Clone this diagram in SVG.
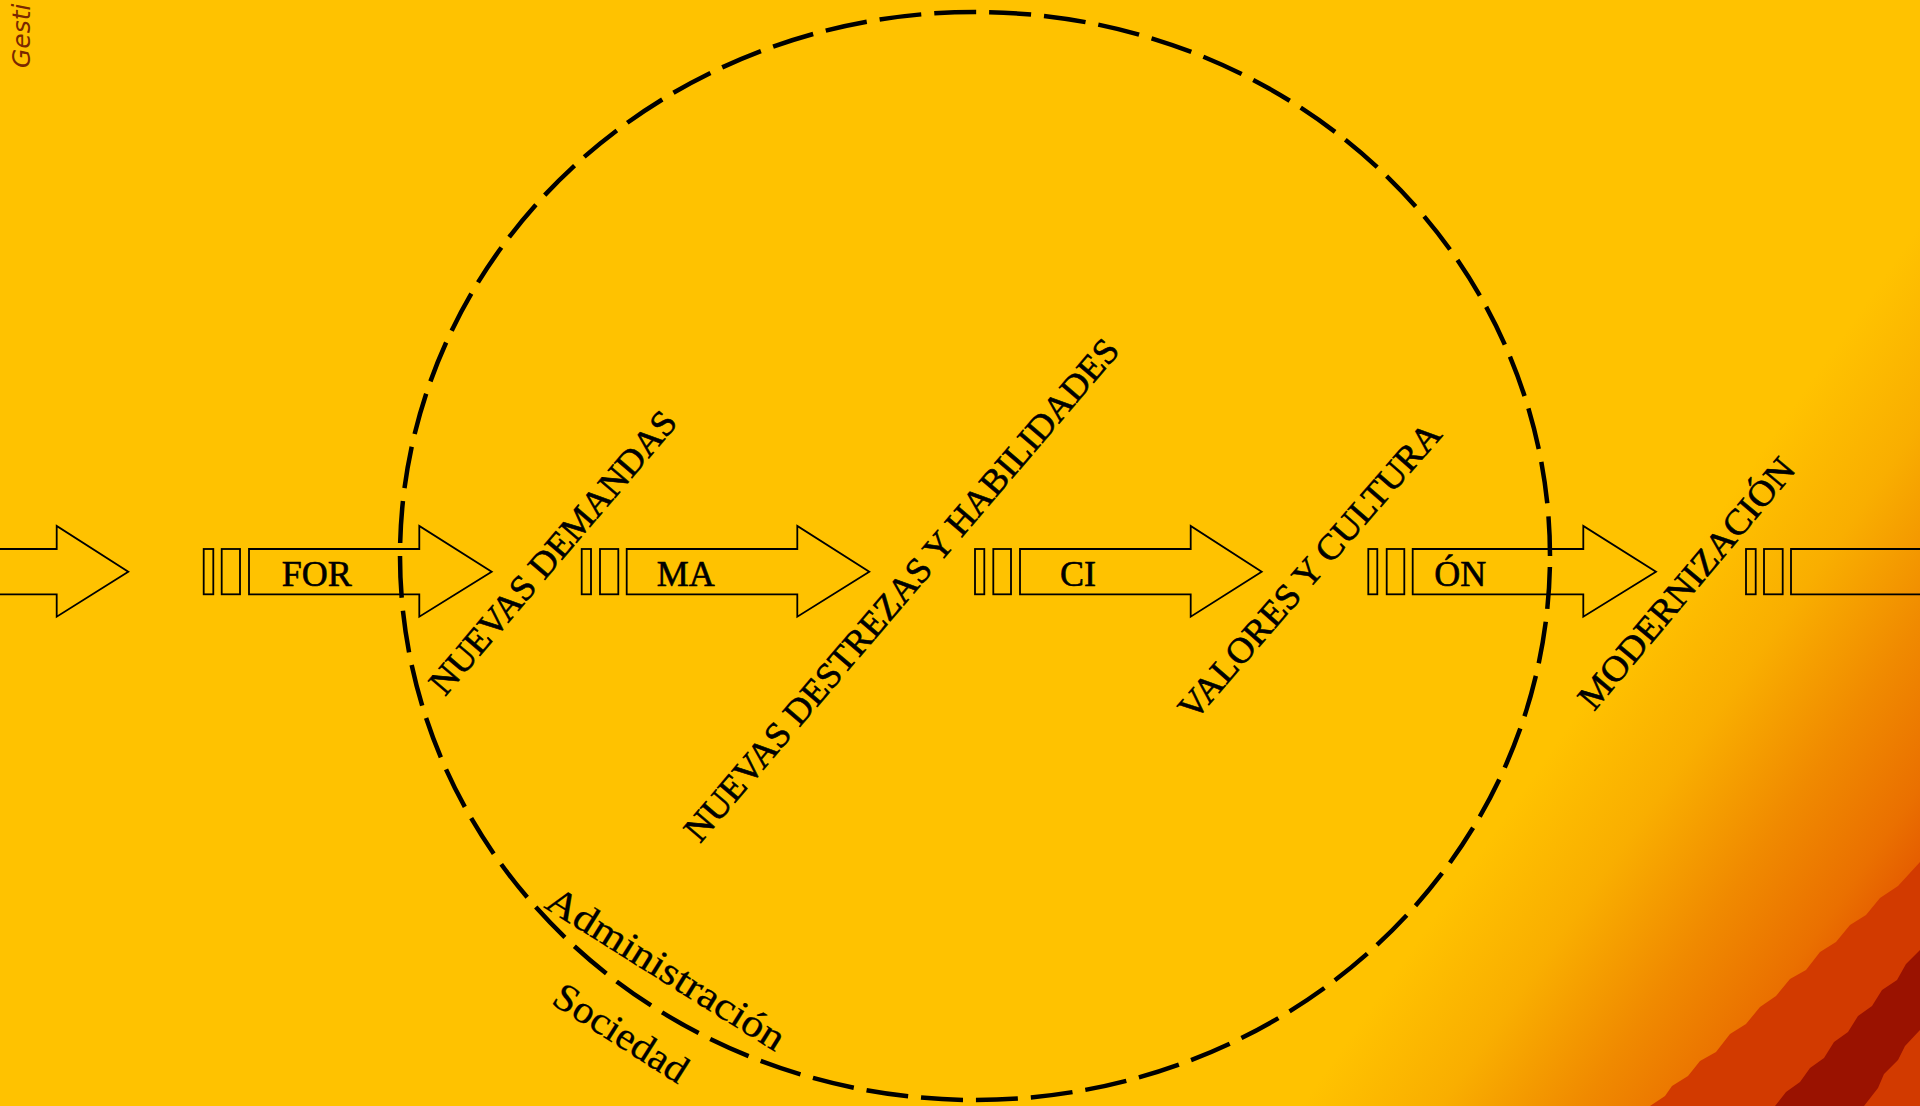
<svg xmlns="http://www.w3.org/2000/svg" width="1920" height="1106" viewBox="0 0 1920 1106">
<defs>
<linearGradient id="bgGrad" gradientUnits="userSpaceOnUse" x1="1450" y1="894" x2="1760.8" y2="1112.5">
<stop offset="0" stop-color="#FFC200"/>
<stop offset="0.3" stop-color="#F9AE00"/>
<stop offset="0.6" stop-color="#F08A00"/>
<stop offset="0.85" stop-color="#EA7000"/>
<stop offset="1" stop-color="#E45800"/>
</linearGradient>
<style>
.ln{fill:none;stroke:#000;stroke-width:1.8;stroke-linejoin:miter}
.lbl{font-family:"Liberation Serif","Times New Roman",serif;font-size:36px;fill:#000;stroke:#000;stroke-width:0.6}
.rot{font-family:"Liberation Serif","Times New Roman",serif;font-size:36px;fill:#000;stroke:#000;stroke-width:0.6}
.cur{font-family:"Liberation Serif","Times New Roman",serif;font-size:39px;fill:#000;stroke:#000;stroke-width:0.3}
</style>
</defs>
<g id="background">
<rect x="0" y="0" width="1920" height="1106" fill="url(#bgGrad)"/>
<polygon fill="#D23A00" points="1650,1106 1665,1096 1672,1086 1688,1076 1700,1061 1716,1052 1730,1034 1746,1024 1760,1007 1776,996 1790,979 1806,970 1820,952 1836,942 1850,925 1866,915 1880,898 1898,886 1920,862 1920,1106"/>
<polygon fill="#9A1200" points="1775,1106 1786,1092 1800,1082 1810,1068 1824,1058 1834,1042 1848,1032 1858,1016 1872,1006 1882,990 1897,980 1906,964 1920,950 1920,1030 1905,1046 1898,1060 1884,1074 1878,1088 1864,1106"/>
<text x="29.5" y="68" transform="rotate(-90 29.5 68)" font-family="'DejaVu Sans',Verdana,sans-serif" font-style="italic" font-size="25" fill="#7A2800">Gesti</text>
</g>
<g id="boundary">
<ellipse cx="975" cy="556" rx="575" ry="544" fill="none" stroke="#000" stroke-width="4.5" stroke-dasharray="42 13" stroke-dashoffset="44"/>
</g>
<g id="connectors">
<polygon class="ln" points="-5,549 56.7,549 56.7,526 128.3,571.7 56.7,616.7 56.7,594.3 -5,594.3"/>
<polygon class="ln" points="249,549 419.3,549 419.3,526 491.7,571.7 419.3,616.7 419.3,594.3 249,594.3"/>
<polygon class="ln" points="626.7,549 797.3,549 797.3,526 869.3,571.7 797.3,616.7 797.3,594.3 626.7,594.3"/>
<polygon class="ln" points="1020,549 1190.7,549 1190.7,526 1261.7,571.7 1190.7,616.7 1190.7,594.3 1020,594.3"/>
<polygon class="ln" points="1412.7,549 1583.3,549 1583.3,526 1656,571.7 1583.3,616.7 1583.3,594.3 1412.7,594.3"/>
<polygon class="ln" points="1791,549 1930,549 1930,594.3 1791,594.3"/>
</g>
<g id="node-for">
<rect class="ln" x="203.7" y="549" width="9.6" height="45.3"/>
<rect class="ln" x="221.7" y="549" width="18.3" height="45.3"/>
<text class="lbl" x="281.7" y="586">FOR</text>
</g>
<g id="node-ma">
<rect class="ln" x="581.7" y="549" width="9.3" height="45.3"/>
<rect class="ln" x="600" y="549" width="18.3" height="45.3"/>
<text class="lbl" x="656.7" y="586">MA</text>
</g>
<g id="node-ci">
<rect class="ln" x="975" y="549" width="9.3" height="45.3"/>
<rect class="ln" x="993.3" y="549" width="17.7" height="45.3"/>
<text class="lbl" x="1060" y="586">CI</text>
</g>
<g id="node-on">
<rect class="ln" x="1368.3" y="549" width="9" height="45.3"/>
<rect class="ln" x="1386.7" y="549" width="17.6" height="45.3"/>
<text class="lbl" x="1434.3" y="586">ÓN</text>
</g>
<g id="node-end">
<rect class="ln" x="1746" y="549" width="9.7" height="45.3"/>
<rect class="ln" x="1764" y="549" width="18.7" height="45.3"/>
</g>
<g id="label-nuevas-demandas">
<text class="rot" x="445" y="697" transform="rotate(-49.5 445 697)" textLength="360" lengthAdjust="spacingAndGlyphs">NUEVAS DEMANDAS</text>
</g>
<g id="label-nuevas-destrezas">
<text class="rot" x="700" y="844" transform="rotate(-49.5 700 844)" textLength="648" lengthAdjust="spacingAndGlyphs">NUEVAS DESTREZAS Y HABILIDADES</text>
</g>
<g id="label-valores">
<text class="rot" x="1194" y="722" transform="rotate(-49 1194 722)" textLength="380" lengthAdjust="spacingAndGlyphs">VALORES Y CULTURA</text>
</g>
<g id="label-modernizacion">
<text class="rot" x="1594" y="712" transform="rotate(-50 1594 712)" textLength="316" lengthAdjust="spacingAndGlyphs">MODERNIZACIÓN</text>
</g>
<g id="label-administracion">
<text class="cur" x="543" y="907" transform="rotate(32 543 907)" textLength="274" lengthAdjust="spacingAndGlyphs">Administración</text>
</g>
<g id="label-sociedad">
<text class="cur" x="550" y="1003" transform="rotate(32.5 550 1003)" textLength="152" lengthAdjust="spacingAndGlyphs">Sociedad</text>
</g>
</svg>
